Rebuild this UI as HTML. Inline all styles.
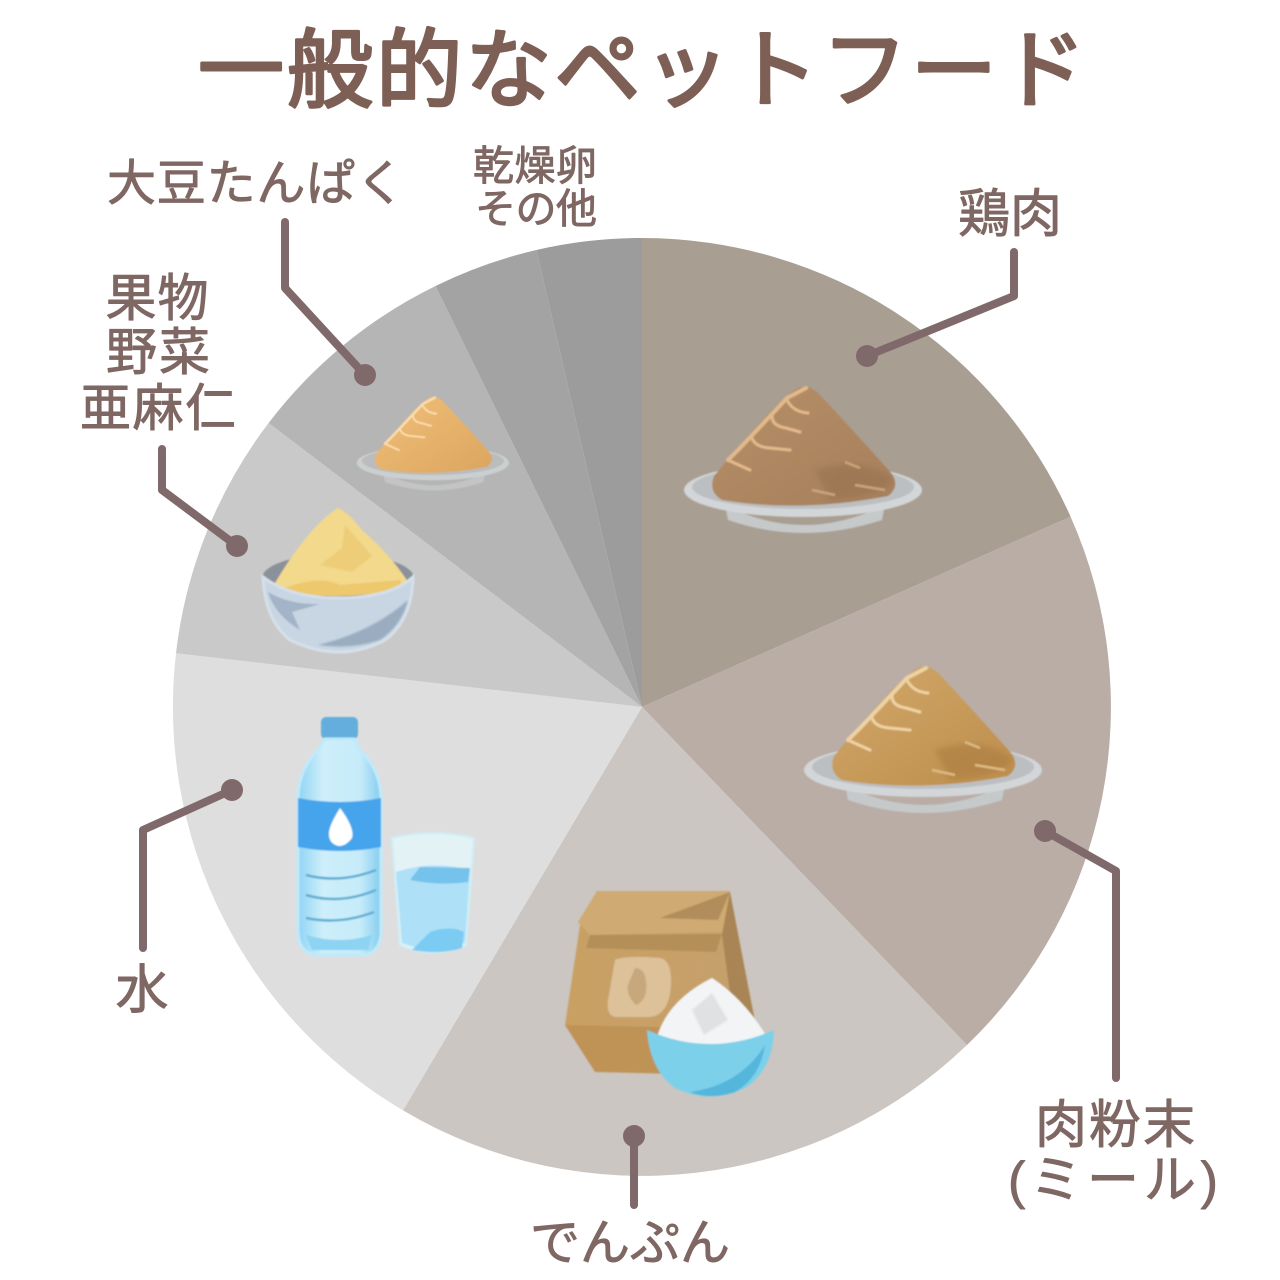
<!DOCTYPE html>
<html lang="ja"><head><meta charset="utf-8"><title>一般的なペットフード</title>
<style>html,body{margin:0;padding:0;background:#fff}svg{display:block}
text{font-family:"Liberation Sans","WenQuanYi Zen Hei","Noto Sans CJK JP",sans-serif;fill:#7f6763;text-anchor:middle;stroke:#7f6763;stroke-width:.9;stroke-linejoin:round}
.t{font-family:"Liberation Sans","Noto Sans CJK JP",sans-serif;font-weight:400;fill:#7d5f55;stroke:#7d5f55;stroke-width:3}
.c{fill:none;stroke:#80696a;stroke-width:8;stroke-linecap:round;stroke-linejoin:round}
</style></head><body>
<svg width="1280" height="1280" viewBox="0 0 1280 1280" xmlns="http://www.w3.org/2000/svg">
<defs>
<filter id="s"><feGaussianBlur stdDeviation="0.8"/></filter>
<filter id="s3"><feGaussianBlur stdDeviation="3"/></filter>
<linearGradient id="b1" x1="0" y1="0" x2="1" y2="1"><stop offset="0" stop-color="#b58f68"/><stop offset="1" stop-color="#a67f5b"/></linearGradient>
<linearGradient id="b2" x1="0" y1="0" x2="1" y2="1"><stop offset="0" stop-color="#d1a868"/><stop offset="1" stop-color="#bd8d4c"/></linearGradient>
<linearGradient id="b3" x1="0" y1="0" x2="1" y2="1"><stop offset="0" stop-color="#efc07a"/><stop offset="1" stop-color="#dca55f"/></linearGradient>
<linearGradient id="bot" x1="0" y1="0" x2="1" y2="0"><stop offset="0" stop-color="#8fd4f4"/><stop offset=".3" stop-color="#cdeefa"/><stop offset=".75" stop-color="#c6ebf9"/><stop offset="1" stop-color="#84cdf0"/></linearGradient>
<linearGradient id="bag" x1="0" y1="0" x2="1" y2="0"><stop offset="0" stop-color="#c9a063"/><stop offset="1" stop-color="#c5a06c"/></linearGradient>
<g id="plate">
<path d="M725 505 Q803 545 885 505 L882 520 Q803 546 728 520Z" fill="#c6c9ca"/>
<ellipse cx="803" cy="490" rx="119" ry="27" fill="#d3d6d8"/>
<ellipse cx="803" cy="487" rx="111" ry="22" fill="#bcbfc1"/>
</g>
<path id="pile" d="M800 387 Q811 385 820 395 Q860 438 892 474 Q900 487 888 496 Q800 513 722 500 Q708 492 714 476 Q748 435 772 410 Q788 393 800 387Z"/>
<g id="vein" fill="none" stroke-linecap="round" stroke-linejoin="round">
<path stroke-width="4" d="M806 388 L787 398 L773 413 L757 430 L740 448 L728 460"/>
<path stroke-width="3" d="M787 400 Q793 412 808 413 M772 416 Q772 426 786 428 L800 432 M752 438 Q755 447 770 448 L790 450 M730 461 L750 470"/>
</g>
</defs>
<rect width="1280" height="1280" fill="#fff"/>

<text class="t" x="642" y="100" font-size="86" textLength="888" lengthAdjust="spacing">一般的なペットフード</text>

<g>
<path d="M642 707 L642 238 A469 469 0 0 1 1070.6 516.7Z" fill="#a99e92"/>
<path d="M642 707 L1070.6 516.7 A469 469 0 0 1 967 1045Z" fill="#b9ada6"/>
<path d="M642 707 L967 1045 A469 469 0 0 1 403 1110.4Z" fill="#cbc6c2"/>
<path d="M642 707 L403 1110.4 A469 469 0 0 1 176 653.3Z" fill="#dedede"/>
<path d="M642 707 L176 653.3 A469 469 0 0 1 268.6 423Z" fill="#c9c9c9"/>
<path d="M642 707 L268.6 423 A469 469 0 0 1 435.5 286Z" fill="#b5b5b5"/>
<path d="M642 707 L435.5 286 A469 469 0 0 1 536.4 250Z" fill="#a3a3a3"/>
<path d="M642 707 L536.4 250 A469 469 0 0 1 642 238Z" fill="#9c9c9c"/>
</g>

<!-- chicken -->
<g filter="url(#s)">
<use href="#plate"/>
<use href="#pile" fill="url(#b1)"/>
<use href="#vein" stroke="#e3b98b"/>
<path d="M815 470 Q860 455 892 478 Q890 495 830 500Z" fill="#966f4d" opacity=".55" filter="url(#s3)"/>
<path d="M845 462 L860 468 M855 485 L885 490 M812 490 L835 495" stroke="#c8a47c" stroke-width="2.5" fill="none"/>
</g>
<!-- meal -->
<g transform="translate(120 280)" filter="url(#s)">
<use href="#plate"/>
<use href="#pile" fill="url(#b2)"/>
<use href="#vein" stroke="#eed2a4"/>
<path d="M815 470 Q860 455 892 478 Q890 495 830 500Z" fill="#a87a3c" opacity=".55" filter="url(#s3)"/>
<path d="M845 462 L860 468 M855 485 L885 490 M812 490 L835 495" stroke="#dcb983" stroke-width="2.5" fill="none"/>
</g>
<!-- soy -->
<g transform="translate(431 397) scale(.64) translate(-800 -387)" filter="url(#s)">
<use href="#plate" opacity=".8"/>
<use href="#pile" fill="url(#b3)"/>
<use href="#vein" stroke="#fbdca8"/>
</g>

<!-- yellow bowl -->
<g filter="url(#s)">
<ellipse cx="338" cy="578" rx="76" ry="24" fill="#8a919a"/>
<path d="M338 508 Q348 512 362 530 Q392 556 410 585 Q350 604 271 590 Q288 560 306 538 Q322 518 338 508Z" fill="#f3d98c"/>
<path d="M345 525 L372 556 L352 572 L320 565 L342 548Z" fill="#ecc973" opacity=".8"/>
<path d="M285 588 Q320 575 340 585 L400 580 L405 590 Q340 600 285 592Z" fill="#edc86d"/>
<path d="M263 577 Q290 598 338 598 Q390 598 413 577 Q412 620 385 640 Q340 664 290 640 Q265 620 263 577Z" fill="#c8d5e2" stroke="#d6e0ea" stroke-width="3"/>
<path d="M268 592 Q290 605 320 604 L292 612 L300 630 Q275 615 268 592Z" fill="#a3b4c8"/>
<path d="M408 600 Q402 625 380 640 Q350 650 318 645 Q372 632 408 600Z" fill="#9aacc0" filter="url(#s)"/>
</g>

<!-- bottle and glass -->
<g filter="url(#s)">
<rect x="321" y="717" width="37" height="22" rx="5" fill="#63aedd"/>
<path d="M325 739 H354 L360 750 Q381 770 381 800 V930 Q381 955 360 955 H320 Q298 955 298 930 V800 Q298 770 318 750Z" fill="url(#bot)" stroke="#bfeafb" stroke-width="3"/>
<path d="M298 798 Q340 806 381 798 V847 Q340 855 298 847Z" fill="#45a4ec"/>
<path d="M340 808 Q355 828 352 838 Q346 846 339 846 Q328 844 329 832 Q330 824 340 808Z" fill="#fff"/>
<path d="M306 875 Q340 884 376 870 M306 895 Q340 905 376 890 M306 918 Q340 925 374 912" fill="none" stroke="#62aed2" stroke-width="2.5"/>
<path d="M306 935 Q340 945 372 935 L368 950 H312Z" fill="#8dd3f2"/>
<path d="M392 838 Q432 828 474 838 L466 945 Q432 960 400 945Z" fill="#e3f2f5" stroke="#cfeef7" stroke-width="2"/>
<path d="M396 872 Q432 860 470 870 L465 943 Q432 955 402 943Z" fill="#aee0f7"/>
<path d="M420 867 L470 868 L468 882 Q440 886 410 880Z" fill="#74c2ec"/>
<path d="M412 950 L430 932 Q450 925 464 932 L462 948 Q440 955 412 950Z" fill="#7bcbf2"/>
</g>

<!-- starch bag -->
<g filter="url(#s)">
<path d="M597 891 L730 892 L755 1020 L740 1070 H595 L565 1025 L580 925Z" fill="url(#bag)"/>
<path d="M597 891 H730 L722 932 L590 935 L578 922Z" fill="#cfaa72"/>
<path d="M590 935 L722 934 L716 952 L586 948Z" fill="#b48f58"/>
<path d="M660 918 L730 892 L718 920Z" fill="#b18d5c"/>
<path d="M730 892 L754 1018 L735 1030 L722 935Z" fill="#a98554"/>
<path d="M565 1025 L700 1028 L722 1075 L595 1072Z" fill="#bf9256"/>
<path d="M615 960 Q625 955 660 958 Q672 960 671 985 Q669 1015 650 1017 H615 Q606 1015 608 1000Z" fill="#dcc199"/>
<path d="M635 968 Q645 968 646 982 Q648 1000 636 1005 Q626 995 628 985Z" fill="#c7a87b"/>
<path d="M657 1037 Q668 1000 712 978 Q745 1000 767 1037 Q712 1060 657 1037Z" fill="#f3f4f5"/>
<path d="M712 993 L728 1020 L704 1035 L692 1010Z" fill="#dfe1e3" filter="url(#s)"/>
<path d="M647 1030 Q710 1058 774 1030 Q773 1070 745 1088 Q710 1105 675 1088 Q650 1070 647 1030Z" fill="#7dd0ea"/>
<path d="M690 1092 Q740 1085 765 1045 Q760 1078 735 1092 Q710 1100 690 1092Z" fill="#55b6dc"/>
</g>

<!-- connectors -->
<path class="c" d="M867 356 L1014 296 V252"/><circle cx="867" cy="356" r="11" fill="#80696a"/>
<path class="c" d="M1045 831 L1116 871 V1078"/><circle cx="1045" cy="831" r="11" fill="#80696a"/>
<path class="c" d="M634 1136 V1205"/><circle cx="634" cy="1136" r="11" fill="#80696a"/>
<path class="c" d="M232 790 L143 830 V948"/><circle cx="232" cy="790" r="11" fill="#80696a"/>
<path class="c" d="M237 546 L162 490 V449"/><circle cx="237" cy="546" r="11" fill="#80696a"/>
<path class="c" d="M365 375 L285 288 V222"/><circle cx="365" cy="375" r="11" fill="#80696a"/>

<!-- labels -->
<text x="1010" y="232" font-size="52">鶏肉</text>
<text x="256" y="200" font-size="49" textLength="298">大豆たんぱく</text>
<text x="535" y="180" font-size="41" textLength="124">乾燥卵</text>
<text x="536" y="223" font-size="41" textLength="122">その他</text>
<text x="157" y="316" font-size="51" textLength="103">果物</text>
<text x="158" y="370" font-size="51" textLength="104">野菜</text>
<text x="158" y="426" font-size="51" textLength="156">亜麻仁</text>
<text x="142" y="1008" font-size="53">水</text>
<text x="1115" y="1143" font-size="52" textLength="160">肉粉末</text>
<text x="1113" y="1198" font-size="52" textLength="210">(ミール)</text>
<text x="630" y="1260" font-size="50" textLength="200">でんぷん</text>
</svg>
</body></html>
